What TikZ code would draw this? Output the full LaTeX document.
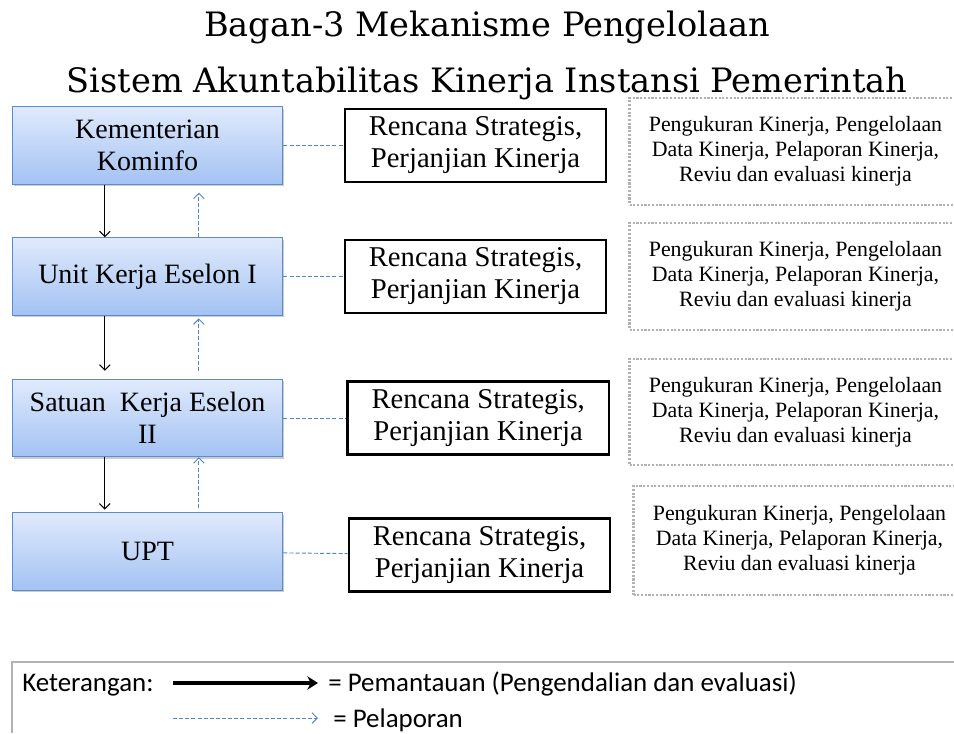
\documentclass[tikz,border=0pt]{standalone}
\usepackage{fontspec}
\setmainfont{Liberation Serif}
\newfontfamily\judulfont{DejaVu Serif}
\newfontfamily\ketfont{Carlito}
\usetikzlibrary{arrows.meta,shadows,positioning}
\definecolor{unitline}{HTML}{5B8BD0}
\definecolor{unittop}{HTML}{E0EAFC}
\definecolor{unitbot}{HTML}{A3C2F3}
\definecolor{laporblue}{HTML}{4F86D0}

\begin{document}
\begin{tikzpicture}[x=0.75pt,y=-0.75pt,>={Straight Barb[length=4pt,width=8pt]},node distance=246pt,
	unit/.style={shape=rectangle,draw=unitline,line width=0.8pt,top color=unittop,bottom color=unitbot,minimum width=203pt,minimum height=58pt,align=center,font=\fontsize{21}{24}\selectfont,drop shadow={shadow xshift=1.2pt,shadow yshift=-1.5pt,fill=black!40}},
	renstra/.style={shape=rectangle,draw,line width=1.8pt,minimum width=196pt,minimum height=55pt,align=center,font=\fontsize{21.5}{24}\selectfont},
	kegiatan/.style={shape=rectangle,draw=black!30,line width=1.6pt,dash pattern=on 1.6pt off 1.2pt,minimum width=249pt,minimum height=80pt,align=center,font=\fontsize{16.4}{18.6}\selectfont},
	lapor/.style={draw=laporblue,dash pattern=on 3pt off 1.6pt,line width=0.7pt},
	pantau/.style={->,line width=0.8pt},
	ket/.style={anchor=base west,inner sep=0pt,font=\ketfont\fontsize{20.2}{24}\selectfont}]
					\useasboundingbox (0,0) rectangle (954,733);

					% judul
					\node (judul1) [anchor=base,font=\judulfont\fontsize{25.2}{28}\selectfont] at (487,36) {Bagan-3 Mekanisme Pengelolaan};
					\node (judul2) [anchor=base,font=\judulfont\fontsize{25.2}{28}\selectfont] at (487,92) {Sistem Akuntabilitas Kinerja Instansi Pemerintah};

					% unit kerja
					\node (kominfo) [unit] at (147.5,145.5) {Kementerian\\Kominfo};
					\node (eselon1) [unit] at (147.5,276.5) {Unit Kerja Eselon I};
					\node (eselon2) [unit] at (147.5,418) {Satuan~ Kerja Eselon\\II};
					\node (upt) [unit] at (147.5,551.5) {UPT};

					% dokumen
					\node (renstra1) [renstra] [right of = kominfo] {Rencana Strategis,\\Perjanjian Kinerja};
					\node (renstra2) [renstra] [right of = eselon1] {Rencana Strategis,\\Perjanjian Kinerja};
					\node (renstra3) [renstra] [right of = eselon2, xshift=2pt] {Rencana Strategis,\\Perjanjian Kinerja};
					\node (renstra4) [renstra] [right of = upt, xshift=3pt, yshift=-2.6pt] {Rencana Strategis,\\Perjanjian Kinerja};

					% kegiatan
					\node (giat1) [kegiatan] [right of = renstra1, node distance=240pt, yshift=-4.5pt] {Pengukuran Kinerja, Pengelolaan\\Data Kinerja, Pelaporan Kinerja,\\Reviu dan evaluasi kinerja};
					\node (giat2) [kegiatan] [right of = renstra2, node distance=240pt] {Pengukuran Kinerja, Pengelolaan\\Data Kinerja, Pelaporan Kinerja,\\Reviu dan evaluasi kinerja};
					\node (giat3) [kegiatan] [right of = renstra3, node distance=238pt, yshift=4.5pt] {Pengukuran Kinerja, Pengelolaan\\Data Kinerja, Pelaporan Kinerja,\\Reviu dan evaluasi kinerja};
					\node (giat4) [kegiatan] [right of = renstra4, node distance=240pt, yshift=11pt, minimum height=82pt] {Pengukuran Kinerja, Pengelolaan\\Data Kinerja, Pelaporan Kinerja,\\Reviu dan evaluasi kinerja};

					% garis ke dokumen
					\draw[lapor] (kominfo) -- (renstra1);
					\draw[lapor] (eselon1) -- (renstra2);
					\draw[lapor] (eselon2) -- (renstra3);
					\draw[lapor] (upt) -- (renstra4);

					% pemantauan dan pelaporan
					\draw[pantau] ([xshift=-32pt]kominfo.south) -- ([xshift=-32pt]eselon1.north);
					\draw[pantau] ([xshift=-32pt]eselon1.south) -- ([xshift=-32pt,yshift=6pt]eselon2.north);
					\draw[pantau] ([xshift=-32pt]eselon2.south) -- ([xshift=-32pt,yshift=2pt]upt.north);
					\draw[lapor,->] ([xshift=38.5pt]eselon1.north) -- ([xshift=38.5pt,yshift=-6pt]kominfo.south);
					\draw[lapor,->] ([xshift=38.5pt,yshift=6pt]eselon2.north) -- ([xshift=38.5pt,yshift=-2pt]eselon1.south);
					\draw[lapor,->] ([xshift=38.5pt,yshift=3pt]upt.north) -- ([xshift=38.5pt]eselon2.south);

					% keterangan
					\draw[black!30,line width=0.8pt] (12,733) -- (12,662) -- (954,662);
					\node (ket) [ket] at (22,691) {Keterangan:};
					\coordinate (pantauA) at (173,683);
					\coordinate (pantauB) at (318,683);
					\coordinate (laporA) at (173,718);
					\coordinate (laporB) at (318,718);
					\draw[-{Stealth[length=8pt,width=10pt]},line width=2.6pt] (pantauA) -- (pantauB);
					\draw[lapor,->] (laporA) -- (laporB);
					\node (ketpantau) [ket] at (328,691) {= Pemantauan (Pengendalian dan evaluasi)};
					\node (ketlapor) [ket] at (333,727) {= Pelaporan};
				\end{tikzpicture}
\end{document}
